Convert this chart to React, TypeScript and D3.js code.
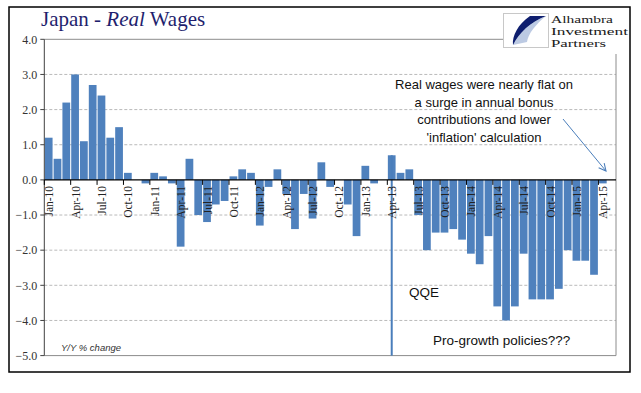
import React from "react";
import * as d3 from "d3";

const months = [
  "Jan-10","Feb-10","Mar-10","Apr-10","May-10","Jun-10","Jul-10","Aug-10","Sep-10","Oct-10","Nov-10","Dec-10",
  "Jan-11","Feb-11","Mar-11","Apr-11","May-11","Jun-11","Jul-11","Aug-11","Sep-11","Oct-11","Nov-11","Dec-11",
  "Jan-12","Feb-12","Mar-12","Apr-12","May-12","Jun-12","Jul-12","Aug-12","Sep-12","Oct-12","Nov-12","Dec-12",
  "Jan-13","Feb-13","Mar-13","Apr-13","May-13","Jun-13","Jul-13","Aug-13","Sep-13","Oct-13","Nov-13","Dec-13",
  "Jan-14","Feb-14","Mar-14","Apr-14","May-14","Jun-14","Jul-14","Aug-14","Sep-14","Oct-14","Nov-14","Dec-14",
  "Jan-15","Feb-15","Mar-15","Apr-15","May-15",
];

const realWages: (number | null)[] = [
  1.2, 0.6, 2.2, 3.0, 1.1, 2.7, 2.4, 1.2, 1.5, 0.2, 0.0, -0.1,
  0.2, 0.1, -0.1, -1.9, 0.6, -1.0, -1.2, -0.7, -0.6, 0.1, 0.3, 0.2,
  -1.3, -0.2, 0.3, -0.4, -1.4, -0.4, -1.1, 0.5, -0.2, 0.0, -0.7, -1.6,
  0.4, -0.1, 0.0, 0.7, 0.2, 0.3, -1.0, -2.0, -1.5, -1.5, -1.4, -1.7,
  -2.1, -2.4, -1.6, -3.6, -4.0, -3.6, -2.1, -3.4, -3.4, -3.4, -3.1, -2.0,
  -2.3, -2.3, -2.7, -0.1, null,
];

const tickLabels = [
  "Jan-10","Apr-10","Jul-10","Oct-10","Jan-11","Apr-11","Jul-11","Oct-11",
  "Jan-12","Apr-12","Jul-12","Oct-12","Jan-13","Apr-13","Jul-13","Oct-13",
  "Jan-14","Apr-14","Jul-14","Oct-14","Jan-15","Apr-15",
];

const yTicks = [4, 3, 2, 1, 0, -1, -2, -3, -4, -5];

const noteLines = [
  "Real wages were nearly flat on",
  "a surge in annual bonus",
  "contributions and lower",
  "'inflation' calculation",
];

const logoLines = ["Alhambra", "Investment", "Partners"];

const qqeMonth = "Apr-13";

const W = 641;
const H = 393;
const PL = 44.3;
const PR = 616;
const PT = 39.3;
const PB = 355.6;
const BAR = "#4F81BD";

export default function App() {
  const x = d3.scaleBand<string>().domain(months).range([PL, PR]).paddingInner(0.12).paddingOuter(0.06);
  const y = d3.scaleLinear().domain([-5, 4]).range([PB, PT]);
  const serif = "'Liberation Serif', 'Times New Roman', serif";
  const sans = "'Liberation Sans', Arial, sans-serif";
  const qIdx = months.indexOf(qqeMonth);
  const qX = (x(qqeMonth) as number) + x.bandwidth() / 2;
  const qVal = realWages[qIdx] as number;
  const step = x.step();
  const logoWidths = [62, 77, 55];

  return (
    <svg width={W} height={H} style={{ position: "absolute", left: 0, top: 0, background: "#fff" }}>
      <defs>
        <marker id="arr" viewBox="0 0 10 10" refX="9" refY="5" markerWidth="9" markerHeight="9" orient="auto">
          <path d="M1,1 L9,5 L1,9" fill="none" stroke="#4A7EBB" strokeWidth="1.2" />
        </marker>
      </defs>
      <rect x={0} y={0} width={W} height={H} fill="#fff" />
      <rect x={9} y={7} width={621} height={365} fill="none" stroke="#000" strokeWidth={1.5} />

      {yTicks.filter((t) => t !== 0 && t !== 4 && t !== -5).map((t) => (
        <line key={"g" + t} x1={PL} x2={PR} y1={y(t)} y2={y(t)} stroke="#A8A8A8" strokeWidth={0.8} strokeDasharray="3,2" />
      ))}
      <line x1={PL} x2={PR} y1={y(4)} y2={y(4)} stroke="#8C8C8C" strokeWidth={1} />
      <line x1={PL} x2={PR} y1={y(-5)} y2={y(-5)} stroke="#8C8C8C" strokeWidth={1} />
      <line x1={PR} x2={PR} y1={y(4)} y2={y(-5)} stroke="#8C8C8C" strokeWidth={1} />

      {months.map((m, i) => {
        const v = realWages[i];
        if (v === null || v === 0) return null;
        const y0 = y(Math.max(0, v));
        const y1 = y(Math.min(0, v));
        return <rect key={m} x={x(m)} y={y0} width={x.bandwidth()} height={y1 - y0} fill={BAR} />;
      })}

      <line x1={qX} x2={qX} y1={y(qVal)} y2={y(-5)} stroke="#4A7EBB" strokeWidth={2} />

      <line x1={PL} x2={PL} y1={y(4)} y2={y(-5)} stroke="#404040" strokeWidth={1} />
      {yTicks.map((t) => (
        <g key={"y" + t}>
          <line x1={PL - 4} x2={PL} y1={y(t)} y2={y(t)} stroke="#404040" strokeWidth={1} />
          <text x={PL - 7} y={y(t)} dy="0.35em" textAnchor="end" fontFamily={serif} fontSize={12} fill="#333">
            {d3.format(".1f")(t)}
          </text>
        </g>
      ))}

      <line x1={PL} x2={PR} y1={y(0)} y2={y(0)} stroke="#000" strokeWidth={1.2} />
      {tickLabels.map((lab) => {
        const bx = x(lab) as number;
        const tx = bx - (step - x.bandwidth()) / 2;
        const cx = bx + x.bandwidth() / 2;
        return (
          <g key={"x" + lab}>
            <line x1={tx} x2={tx} y1={y(0)} y2={y(0) + 5} stroke="#000" strokeWidth={1} />
            <text
              transform={`translate(${cx + 0.5},${y(0) + 6}) rotate(-90)`}
              textAnchor="end"
              dominantBaseline="central"
              fontFamily={serif}
              fontSize={11.5}
              fill="#222"
            >
              {lab}
            </text>
          </g>
        );
      })}

      <text x={41} y={26} fontFamily={serif} fontSize={21} fill="#1F1F6E">
        Japan - <tspan fontStyle="italic">Real</tspan> Wages
      </text>

      <rect x={503} y={10} width={125} height={44} fill="#fff" />
      <rect x={503.5} y={13.5} width={45} height={34} fill="#fff" stroke="#C8C8C8" strokeWidth={1} />
      <path d="M546,16 L530,16 C518,24 512,36 513,45 C519,33 530,22 546,16 Z" fill="#0E1E6E" />
      <path d="M513,45 C519,33 530,22 546,16 C536,24 528,34 527,42 Z" fill="#3E68B0" opacity={0.35} />
      <g fontFamily={serif} fontSize={11} fill="#1A1A1A">
        {logoLines.map((l, i) => (
          <text key={l} x={551} y={23 + i * 12.2} textLength={logoWidths[i]} lengthAdjust="spacingAndGlyphs">
            {l}
          </text>
        ))}
      </g>

      {noteLines.map((l, i) => (
        <text key={l} x={484} y={89 + i * 17.6} textAnchor="middle" fontFamily={sans} fontSize={13} fill="#111">
          {l}
        </text>
      ))}
      <line x1={563} y1={119} x2={606} y2={171} stroke="#4A7EBB" strokeWidth={1} markerEnd="url(#arr)" />

      <text x={409} y={297} fontFamily={sans} fontSize={13.5} fill="#111">QQE</text>
      <text x={433} y={345} fontFamily={sans} fontSize={13.5} fill="#111">Pro-growth policies???</text>
      <text x={61} y={350.5} fontFamily={sans} fontSize={9.5} fontStyle="italic" fill="#333">Y/Y % change</text>
    </svg>
  );
}
